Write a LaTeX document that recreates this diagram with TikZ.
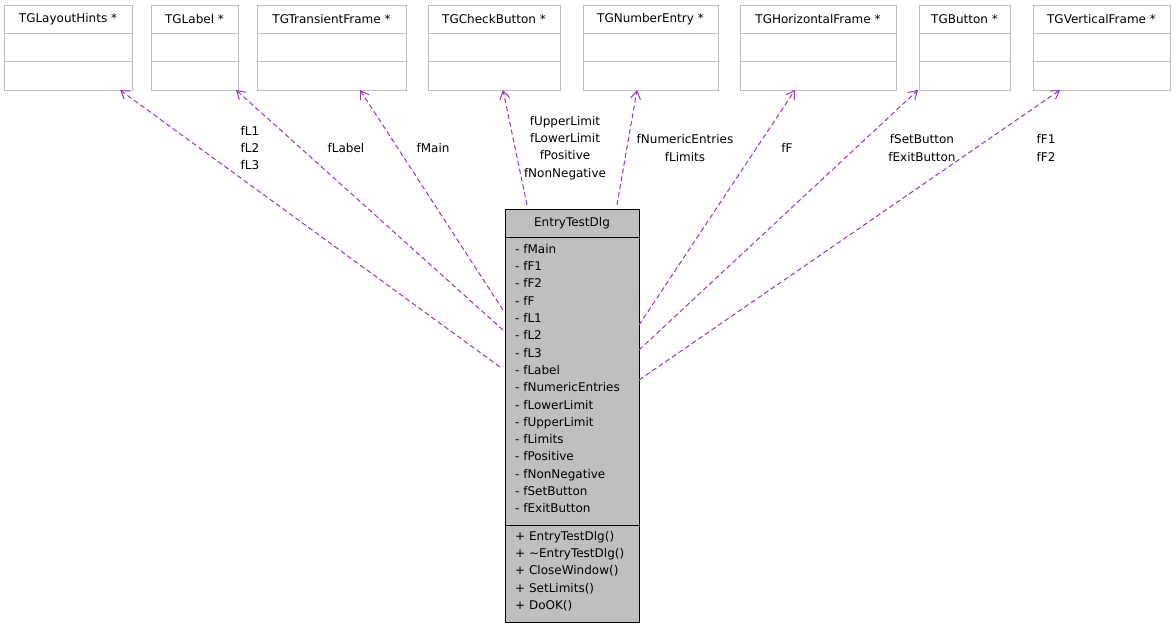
\documentclass[tikz,border=0pt]{standalone}
\usepackage{fontspec}
\setmainfont{DejaVu Sans}
\usetikzlibrary{arrows.meta}
\definecolor{bx}{HTML}{BFBFBF}
\definecolor{ed}{HTML}{9A32CD}
\begin{document}
\begin{tikzpicture}[x=1pt,y=-1pt,font=\fontsize{12}{17.3}\selectfont,
 cls/.style={draw=bx,line width=1pt,rectangle,inner sep=0pt,anchor=north west},
 edge/.style={draw=ed,dash pattern=on 5pt off 3pt,line width=1pt,-{Straight Barb[length=8pt,width=10pt]}},
 lab/.style={align=center,inner sep=0pt}]
\useasboundingbox (0,0) rectangle (1176,629);
\foreach \n/\a/\b/\t in {b1/4/132/TGLayoutHints *,b2/151/238/TGLabel *,b3/257/406/TGTransientFrame *,b4/428/560/TGCheckButton *,b5/583/718/TGNumberEntry *,b6/740/896/TGHorizontalFrame *,b7/919/1010/TGButton *,b8/1033/1170/TGVerticalFrame *}{
 \node[cls,minimum width=\b-\a,minimum height=85] (\n) at (\a,5) {};
 \draw[bx,line width=1pt] (\a,33) -- (\b,33) (\a,61) -- (\b,61);
 \node[inner sep=0pt] (\n t) at ({(\a+\b)/2},19) {\t};
}
\node[draw=black,fill=bx,line width=1pt,rectangle,inner sep=0pt,anchor=north west,minimum width=134,minimum height=413] (m) at (505,209) {};
\draw[line width=1pt] (505,237) -- (639,237) (505,525) -- (639,525);
\node[inner sep=0pt] (mt) at (572,223) {EntryTestDlg};
\node[anchor=north west,align=left,inner sep=0pt] (ma) at (515,244) {- fMain\\- fF1\\- fF2\\- fF\\- fL1\\- fL2\\- fL3\\- fLabel\\- fNumericEntries\\- fLowerLimit\\- fUpperLimit\\- fLimits\\- fPositive\\- fNonNegative\\- fSetButton\\- fExitButton};
\node[anchor=north west,align=left,inner sep=0pt] (mm) at (515,531) {+ EntryTestDlg()\\+ \textasciitilde EntryTestDlg()\\+ CloseWindow()\\+ SetLimits()\\+ DoOK()};
\coordinate (s1) at (500,367);
\coordinate (s2) at (503,330);
\coordinate (s3) at (503,310);
\coordinate (s4) at (527,205);
\coordinate (s5) at (617,205);
\coordinate (s6) at (639,325);
\coordinate (s7) at (639,350);
\coordinate (s8) at (639,380);
\draw[edge] (s1) -- (120,90) coordinate (e1);
\draw[edge] (s2) -- (236,90) coordinate (e2);
\draw[edge] (s3) -- (360,90) coordinate (e3);
\draw[edge] (s4) -- (503,90) coordinate (e4);
\draw[edge] (s5) -- (637,90) coordinate (e5);
\draw[edge] (s6) -- (795,90) coordinate (e6);
\draw[edge] (s7) -- (918,90) coordinate (e7);
\draw[edge] (s8) -- (1060,90) coordinate (e8);
\node[lab] (l1) at (250,148) {fL1\\fL2\\fL3};
\node[lab] (l2) at (346,148) {fLabel};
\node[lab] (l3) at (433,148) {fMain};
\node[lab] (l4) at (565,148) {fUpperLimit\\fLowerLimit\\fPositive\\fNonNegative};
\node[lab] (l5) at (685,148) {fNumericEntries\\fLimits};
\node[lab] (l6) at (787,148) {fF};
\node[lab] (l7) at (922,148) {fSetButton\\fExitButton};
\node[lab] (l8) at (1046,148) {fF1\\fF2};
\end{tikzpicture}
\end{document}
